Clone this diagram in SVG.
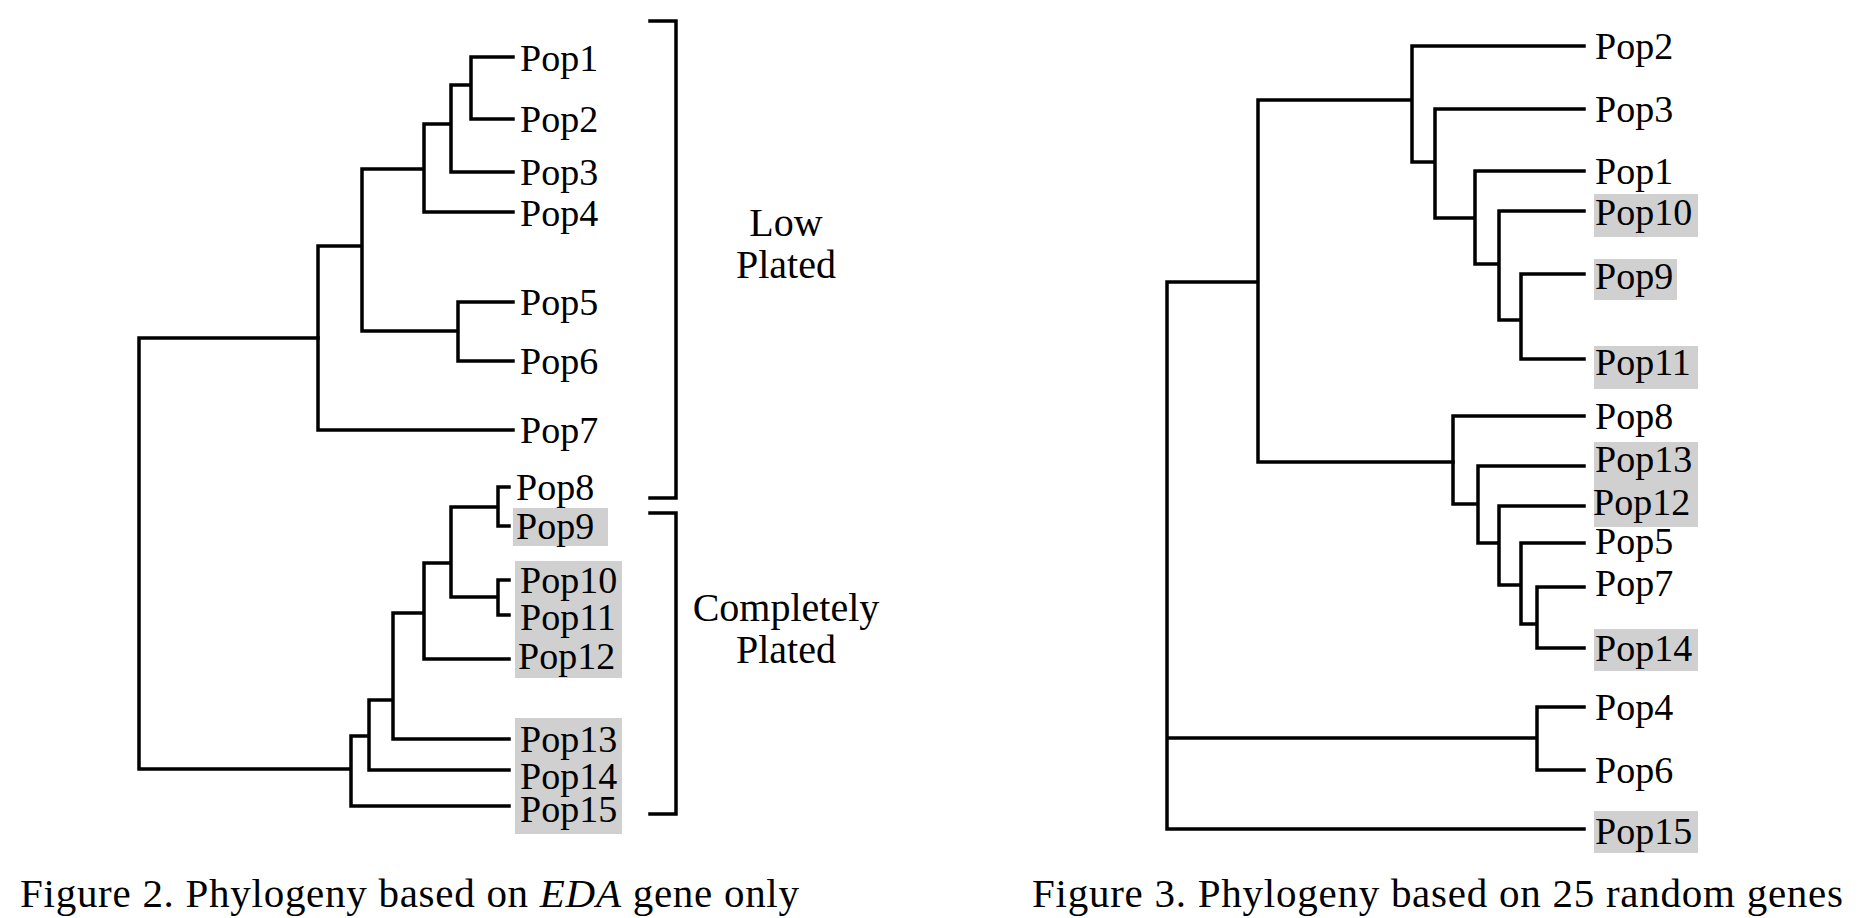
<svg xmlns="http://www.w3.org/2000/svg" width="1872" height="918" viewBox="0 0 1872 918">
<style>
.e{fill:none;stroke:#000;stroke-width:3.5;stroke-linecap:square}
text{font-family:"Liberation Serif","Times New Roman",serif;font-size:38px;fill:#000}
.cap{font-size:41px}
.grp{font-size:40px}
.hl{fill:#d0d0d0}
</style>
<rect width="1872" height="918" fill="#fff"/>
<g id="highlights">
<rect class="hl" x="513" y="508" width="95" height="38"/>
<rect class="hl" x="515" y="561" width="107" height="117"/>
<rect class="hl" x="515" y="718" width="107" height="116"/>
<rect class="hl" x="1594" y="194" width="104" height="43"/>
<rect class="hl" x="1594" y="259" width="83" height="41"/>
<rect class="hl" x="1594" y="346" width="104" height="43"/>
<rect class="hl" x="1594" y="442" width="104" height="85"/>
<rect class="hl" x="1594" y="629" width="104" height="42"/>
<rect class="hl" x="1594" y="811" width="104" height="42"/>
</g>
<g id="connectors">
<path class="e" d="M318,338H139V769H351M351,736V806H509M351,736H369M369,700V770H509M369,700H393M393,613V739H509M393,613H424M424,563V659H509M424,563H451M451,507V597H498M451,507H498M498,487V526H509M498,487H509M498,580V615H509M498,580H509"/>
<path class="e" d="M318,246V430H513M318,246H362M362,169V331H458M362,169H424M424,124V212H513M424,124H451M451,85V172H513M451,85H471M471,57V119H513M471,57H513M458,302V361H513M458,302H513"/>
<path class="e" d="M650,21H676V498H650M650,513H676V814H650"/>
<path class="e" d="M1258,282H1167V829H1584M1167,738H1537M1537,707V770H1584M1537,707H1584M1258,100V462H1453M1258,100H1412M1412,46V162H1435M1412,46H1584M1435,109V218H1475M1435,109H1584M1475,171V264H1499M1475,171H1584M1499,211V320H1521M1499,211H1584M1521,274V359H1584M1521,274H1584"/>
<path class="e" d="M1453,416V504H1478M1453,416H1584M1478,466V543H1499M1478,466H1584M1499,506V585H1521M1499,506H1584M1521,543V624H1537M1521,543H1584M1537,587V648H1584M1537,587H1584"/>
</g>
<g id="left-labels">
<text x="520" y="71">Pop1</text><text x="520" y="132">Pop2</text><text x="520" y="185">Pop3</text><text x="520" y="226">Pop4</text>
<text x="520" y="315">Pop5</text><text x="520" y="374">Pop6</text><text x="520" y="443">Pop7</text>
<text x="516" y="500">Pop8</text><text x="516" y="539">Pop9</text><text x="520" y="593">Pop10</text><text x="520" y="630">Pop11</text><text x="518" y="669">Pop12</text>
<text x="520" y="752">Pop13</text><text x="520" y="789">Pop14</text><text x="520" y="822">Pop15</text>
<text class="grp" x="786" y="236" text-anchor="middle">Low</text><text class="grp" x="786" y="278" text-anchor="middle">Plated</text>
<text class="grp" x="786" y="621" text-anchor="middle">Completely</text><text class="grp" x="786" y="663" text-anchor="middle">Plated</text>
</g>
<g id="right-labels">
<text x="1595" y="59">Pop2</text><text x="1595" y="122">Pop3</text><text x="1595" y="184">Pop1</text><text x="1595" y="225">Pop10</text>
<text x="1595" y="289">Pop9</text><text x="1595" y="375">Pop11</text><text x="1595" y="429">Pop8</text><text x="1595" y="472">Pop13</text>
<text x="1593" y="515">Pop12</text><text x="1595" y="554">Pop5</text><text x="1595" y="596">Pop7</text><text x="1595" y="661">Pop14</text>
<text x="1595" y="720">Pop4</text><text x="1595" y="783">Pop6</text><text x="1595" y="844">Pop15</text>
</g>
<g id="captions">
<text class="cap" x="20" y="907" textLength="779">Figure 2. Phylogeny based on <tspan font-style="italic">EDA</tspan> gene only</text>
<text class="cap" x="1032" y="907" textLength="811">Figure 3. Phylogeny based on 25 random genes</text>
</g>
</svg>
